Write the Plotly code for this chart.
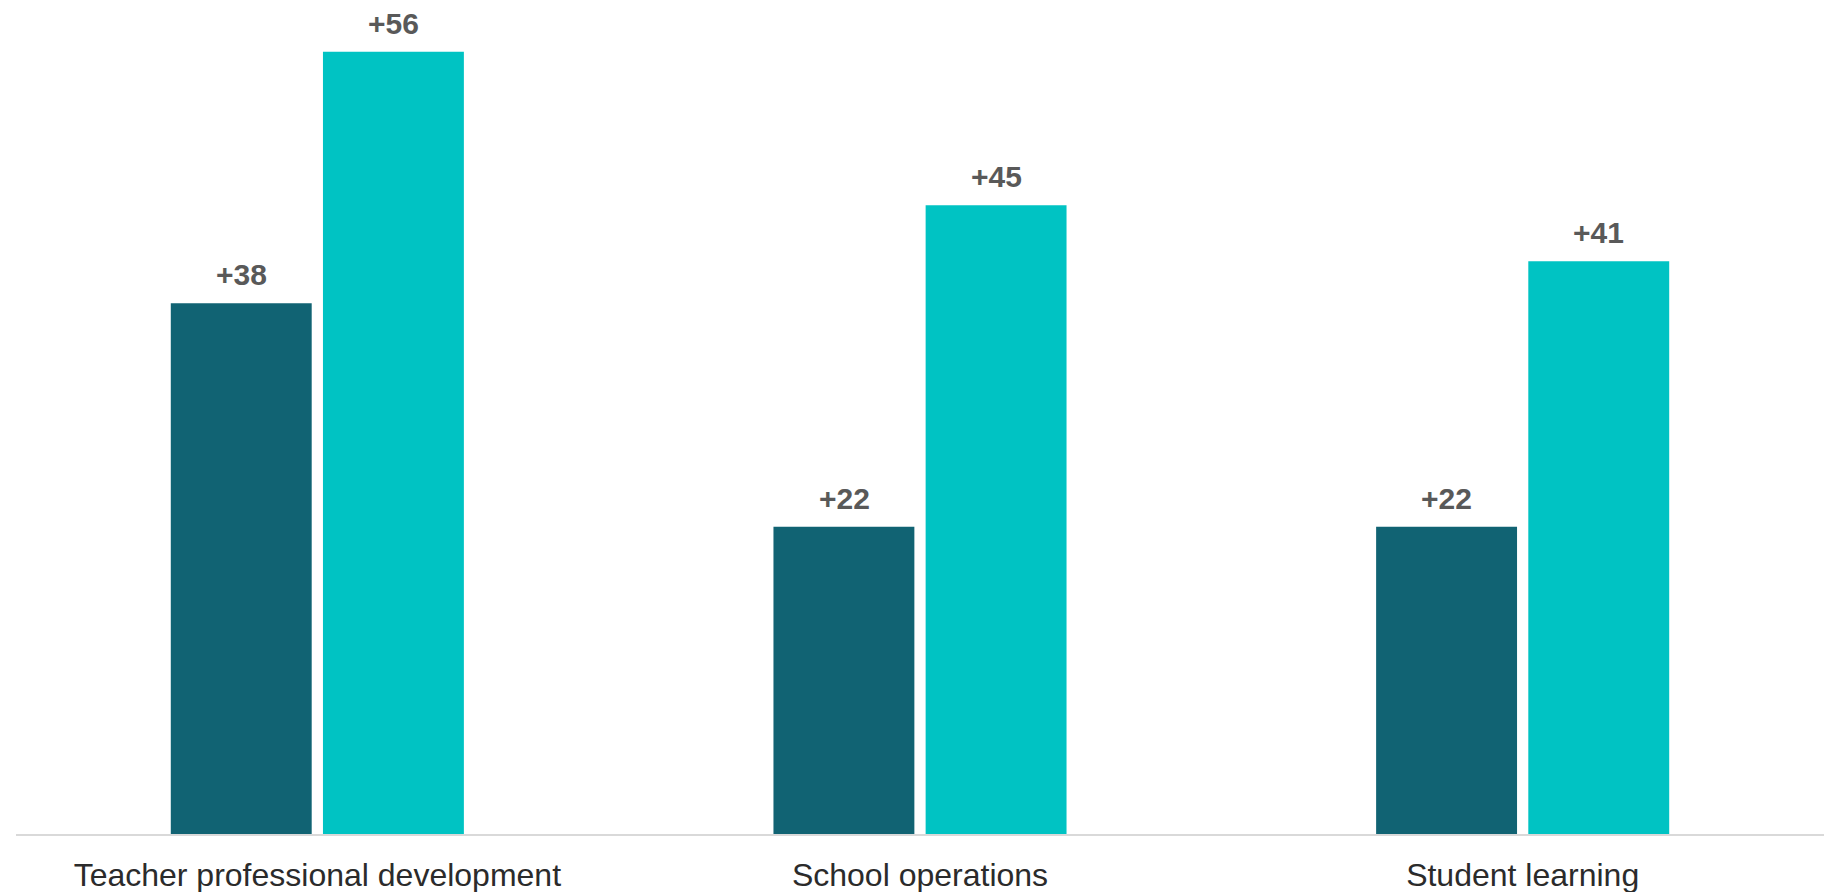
import plotly.graph_objects as go

categories = ["Teacher professional development", "School operations", "Student learning"]
series_names = ["Series A", "Series B"]
values_a = [38, 22, 22]
values_b = [56, 45, 41]
labels_a = ["+38", "+22", "+22"]
labels_b = ["+56", "+45", "+41"]

DARK = "#116373"
TEAL = "#00C3C3"
LABEL_COLOR = "#595959"
FONT = "Liberation Sans, Arial, sans-serif"

fig = go.Figure()
fig.add_trace(go.Bar(x=categories, y=values_a, name=series_names[0], marker=dict(color=DARK, line=dict(width=0))))
fig.add_trace(go.Bar(x=categories, y=values_b, name=series_names[1], marker=dict(color=TEAL, line=dict(width=0))))

annotations = []
for cat, v, t in zip(categories, values_a, labels_a):
    annotations.append(dict(x=cat, y=v, text=f"<b>{t}</b>", xref="x", yref="y", showarrow=False,
                            xshift=-76, yshift=10, yanchor="bottom",
                            font=dict(family=FONT, size=30, color=LABEL_COLOR)))
for cat, v, t in zip(categories, values_b, labels_b):
    annotations.append(dict(x=cat, y=v, text=f"<b>{t}</b>", xref="x", yref="y", showarrow=False,
                            xshift=76, yshift=10, yanchor="bottom",
                            font=dict(family=FONT, size=30, color=LABEL_COLOR)))

fig.update_layout(
    width=1839, height=892,
    margin=dict(l=16, r=15, t=0, b=58),
    paper_bgcolor="white", plot_bgcolor="white",
    barmode="group", bargap=0.495, bargroupgap=0.074,
    showlegend=False,
    annotations=annotations,
    font=dict(family=FONT),
)
fig.update_xaxes(showline=True, linecolor="#D9D9D9", linewidth=2, ticks="",
                 ticklabelstandoff=12,
                 tickfont=dict(family=FONT, size=32, color="#2b2b2b"), showgrid=False)
fig.update_yaxes(range=[0, 59.7], visible=False, showgrid=False, zeroline=False)

fig.write_html("out.html", config={"displayModeBar": False},
               post_script="document.body.style.margin='0';document.body.style.padding='0';")
